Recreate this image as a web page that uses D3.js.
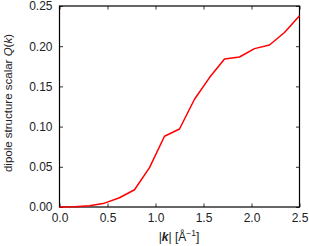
<!DOCTYPE html>
<html>
<head>
<meta charset="utf-8">
<script src="https://cdn.jsdelivr.net/npm/d3@7"></script>
<style>
  body { margin: 0; background: #fff; }
  text { font-family: "Liberation Sans", Arial, sans-serif; }
</style>
</head>
<body>
<div id="chart"></div>
<script>
// |k| values (1/Å)
const kValues = [0, 0.15625, 0.3125, 0.46875, 0.625, 0.78125, 0.9375, 1.09375, 1.25,
                 1.40625, 1.5625, 1.71875, 1.875, 2.03125, 2.1875, 2.34375, 2.5];
// dipole structure scalar Q(k)
const qValues = [0, 0.0003, 0.0015, 0.0048, 0.0115, 0.0215, 0.049, 0.088, 0.097,
                 0.134, 0.161, 0.184, 0.1866, 0.197, 0.2015, 0.217, 0.238];
const xTicks = [0, 0.5, 1.0, 1.5, 2.0, 2.5];
const yTicks = [0, 0.05, 0.10, 0.15, 0.20, 0.25];

const W = 309, H = 246;
const m = { left: 59.5, right: 9.5, top: 6, bottom: 39 };

const svg = d3.select("#chart").append("svg")
    .attr("width", W)
    .attr("height", H);

const x = d3.scaleLinear([0, 2.5], [m.left, W - m.right]);
const y = d3.scaleLinear([0, 0.25], [H - m.bottom, m.top]);

const tick = 3.5;
const g = svg.append("g");

// ticks on all four sides, pointing inward
g.append("g").attr("transform", `translate(0,${y(0)})`)
    .call(d3.axisBottom(x).tickValues(xTicks).tickSize(-tick).tickPadding(6).tickFormat(d3.format(".1f")))
    .call(a => a.select(".domain").remove());
g.append("g").attr("transform", `translate(0,${y(0.25)})`)
    .call(d3.axisTop(x).tickValues(xTicks).tickSize(-tick).tickFormat(""))
    .call(a => a.select(".domain").remove());
g.append("g").attr("transform", `translate(${x(0)},0)`)
    .call(d3.axisLeft(y).tickValues(yTicks).tickSize(-tick).tickPadding(7).tickFormat(d3.format(".2f")))
    .call(a => a.select(".domain").remove());
g.append("g").attr("transform", `translate(${x(2.5)},0)`)
    .call(d3.axisRight(y).tickValues(yTicks).tickSize(-tick).tickFormat(""))
    .call(a => a.select(".domain").remove());

svg.selectAll(".tick text").attr("font-size", 12).attr("fill", "#222")
    .attr("font-family", "'Liberation Sans', Arial, sans-serif");
svg.selectAll(".tick line").attr("stroke", "#333");

// frame
svg.append("rect")
    .attr("x", x(0)).attr("y", y(0.25))
    .attr("width", x(2.5) - x(0)).attr("height", y(0) - y(0.25))
    .attr("fill", "none").attr("stroke", "#000").attr("stroke-width", 1.2);

const line = d3.line()
    .x((d, i) => x(kValues[i]))
    .y(d => y(d));

svg.append("path")
    .datum(qValues)
    .attr("fill", "none")
    .attr("stroke", "#ff0000")
    .attr("stroke-width", 1.5)
    .attr("stroke-linejoin", "round")
    .attr("d", line);

// axis labels
const xl = svg.append("text")
    .attr("x", 179)
    .attr("y", 241)
    .attr("text-anchor", "middle")
    .attr("font-size", 12)
    .attr("fill", "#222");
xl.append("tspan").text("|");
xl.append("tspan").attr("font-weight", "bold").attr("font-style", "italic").text("k");
xl.append("tspan").text("| [Å");
xl.append("tspan").attr("dy", -5).attr("font-size", 8.5).text("−1");
xl.append("tspan").attr("dy", 5).text("]");

const yl = svg.append("text")
    .attr("transform", `translate(12,103) rotate(-90)`)
    .attr("text-anchor", "middle")
    .attr("font-size", 11.5)
    .attr("fill", "#222");
yl.append("tspan").text("dipole structure scalar ");
yl.append("tspan").attr("font-style", "italic").text("Q");
yl.append("tspan").text("(");
yl.append("tspan").attr("font-style", "italic").text("k");
yl.append("tspan").text(")");
</script>
</body>
</html>
